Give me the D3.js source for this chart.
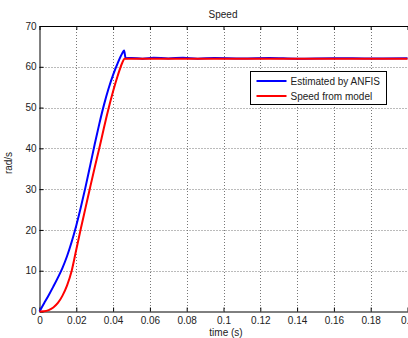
<!DOCTYPE html>
<html>
<head>
<meta charset="utf-8">
<script src="https://d3js.org/d3.v7.min.js"></script>
<style>
body { margin: 0; background: #fff; }
svg { display: block; font-family: "Liberation Sans", Arial, sans-serif; }
.grid line { stroke: #777; stroke-dasharray: 1,2; stroke-width: 1; }
.axis text { font-size: 10px; fill: #222; }
.axis path, .axis line { stroke: #000; }
</style>
</head>
<body>
<svg width="408" height="338"></svg>
<script>

// time (s) and speed (rad/s)
var tEst = [0, 0.0025, 0.005, 0.0075, 0.01, 0.0125, 0.015, 0.0175, 0.02, 0.0225, 0.025, 0.0275, 0.03, 0.0325, 0.035, 0.0375, 0.04, 0.0425, 0.045, 0.046, 0.0468,
            0.05, 0.056, 0.062, 0.07, 0.078, 0.086, 0.095, 0.11, 0.125, 0.14, 0.16, 0.18, 0.2];
var vEst = [0, 2.0, 4.0, 6.1, 8.3, 10.7, 13.6, 17.1, 21.1, 25.6, 30.5, 35.7, 41, 46, 50.6, 54.6, 58, 60.9, 63.3, 64, 62.1,
            62.15, 62.0, 62.2, 62.05, 62.2, 62.0, 62.15, 62.05, 62.15, 62.0, 62.1, 62.05, 62.1];

var tMod = [0, 0.0025, 0.005, 0.0075, 0.01, 0.0125, 0.015, 0.0175, 0.02, 0.0225, 0.025, 0.0275, 0.03, 0.0325, 0.035, 0.0375, 0.04, 0.0425, 0.045, 0.0462,
            0.07, 0.1, 0.13, 0.16, 0.2];
var vMod = [0, 0.05, 0.35, 1.0, 2.1, 3.9, 6.4, 10, 15.2, 20.4, 25.4, 30.4, 35.3, 40, 45, 49.7, 54, 57.8, 61, 62,
            62, 62, 62, 62, 62];

var xTicks = [0, 0.02, 0.04, 0.06, 0.08, 0.1, 0.12, 0.14, 0.16, 0.18, 0.2];
var yTicks = [0, 10, 20, 30, 40, 50, 60, 70];
var legendNames = ["Estimated by ANFIS", "Speed from model"];
var colors = ["#0000ff", "#ff0000"];

var svg = d3.select("svg");
var plotLeft = 39.5, plotRight = 407.5, plotTop = 26, plotBottom = 311.5;

var x = d3.scaleLinear().domain([0, 0.2]).range([plotLeft, plotRight]);
var y = d3.scaleLinear().domain([0, 70]).range([plotBottom, plotTop]);

// grid
svg.append("g").attr("class", "grid")
  .selectAll("line").data(xTicks.slice(1, -1)).enter().append("line")
    .attr("x1", function(d) { return Math.round(x(d)) + 0.5; })
    .attr("x2", function(d) { return Math.round(x(d)) + 0.5; })
    .attr("y1", plotTop).attr("y2", plotBottom);
svg.append("g").attr("class", "grid")
  .selectAll("line").data(yTicks.slice(1, -1)).enter().append("line")
    .attr("y1", function(d) { return Math.round(y(d)) + 0.5; })
    .attr("y2", function(d) { return Math.round(y(d)) + 0.5; })
    .attr("x1", plotLeft).attr("x2", plotRight);

// axes, MATLAB style ticks inside
svg.append("g").attr("class", "axis")
    .attr("transform", "translate(0," + plotBottom + ")")
    .call(d3.axisBottom(x).tickValues(xTicks).tickSizeInner(-4).tickSizeOuter(0).tickPadding(5.5)
      .tickFormat(function(d) { return d3.format("~g")(d); }));
svg.append("g").attr("class", "axis")
    .attr("transform", "translate(0," + plotTop + ")")
    .call(d3.axisTop(x).tickValues(xTicks).tickSizeInner(-4).tickSizeOuter(0).tickFormat(""));
svg.append("g").attr("class", "axis")
    .attr("transform", "translate(" + plotLeft + ",0)")
    .call(d3.axisLeft(y).tickValues(yTicks).tickSizeInner(-4).tickSizeOuter(0).tickPadding(3));

// lines
var line = d3.line()
    .x(function(d) { return x(d[0]); })
    .y(function(d) { return y(d[1]); })
    .curve(d3.curveMonotoneX);

svg.append("path")
    .datum(d3.zip(tEst, vEst))
    .attr("fill", "none").attr("stroke", colors[0]).attr("stroke-width", 2)
    .attr("d", line);
svg.append("path")
    .datum(d3.zip(tMod, vMod))
    .attr("fill", "none").attr("stroke", colors[1]).attr("stroke-width", 2)
    .attr("d", line);

// title and labels
svg.append("text").attr("x", 223).attr("y", 18).attr("text-anchor", "middle")
    .attr("font-size", 10).attr("fill", "#222").text("Speed");
svg.append("text").attr("x", 226).attr("y", 336).attr("text-anchor", "middle")
    .attr("font-size", 10).attr("fill", "#222").text("time (s)");
svg.append("text").attr("transform", "translate(12,163) rotate(-90)").attr("text-anchor", "middle")
    .attr("font-size", 10).attr("fill", "#222").text("rad/s");

// legend
var lg = svg.append("g").attr("transform", "translate(250.5,71.5)");
lg.append("rect").attr("width", 136).attr("height", 33)
    .attr("fill", "#fff").attr("stroke", "#000");
legendNames.forEach(function(name, i) {
  var yy = 9.5 + i * 15;
  lg.append("line").attr("x1", 6).attr("x2", 36).attr("y1", yy).attr("y2", yy)
      .attr("stroke", colors[i]).attr("stroke-width", 2);
  lg.append("text").attr("x", 40).attr("y", yy + 3.5)
      .attr("font-size", 10).attr("fill", "#222").text(name);
});

</script>
</body>
</html>
